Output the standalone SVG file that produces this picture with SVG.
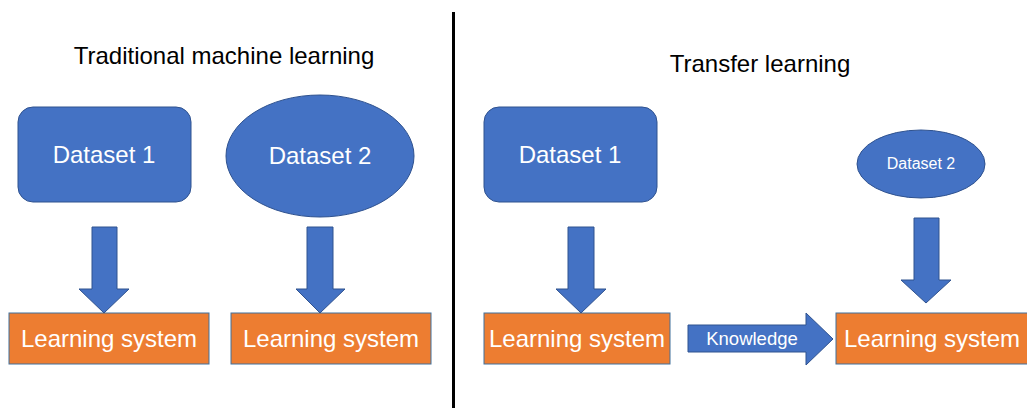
<svg xmlns="http://www.w3.org/2000/svg" width="1027" height="408" viewBox="0 0 1027 408">
  <style>
    .data { fill: #4472C4; stroke: #2F528F; stroke-width: 1; }
    .sys { fill: #ED7D31; stroke: #41719C; stroke-width: 1; }
    .flow { fill: #4472C4; stroke: #2F528F; stroke-width: 1; }
    .title { font-family: "Liberation Sans", Arial, sans-serif; font-size: 24px; fill: #000; text-anchor: middle; }
    .lbl { font-family: "Liberation Sans", Arial, sans-serif; font-size: 24px; fill: #fff; text-anchor: middle; }
  </style>
  <rect width="1027" height="408" fill="#fff"/>

  <!-- headings -->
  <text class="title" x="224" y="64">Traditional machine learning</text>
  <text class="title" x="760" y="72">Transfer learning</text>

  <!-- divider -->
  <line x1="453.5" y1="12" x2="453.5" y2="408" stroke="#000" stroke-width="3"/>

  <!-- left panel -->
  <g id="trad-dataset1">
    <rect class="data" x="18" y="107" width="173" height="95" rx="15"/>
    <text class="lbl" x="104" y="163">Dataset 1</text>
  </g>
  <g id="trad-dataset2">
    <ellipse class="data" cx="320" cy="156" rx="94" ry="61"/>
    <text class="lbl" x="320" y="164">Dataset 2</text>
  </g>
  <g id="trad-system1">
    <rect class="sys" x="9" y="313" width="200" height="51"/>
    <text class="lbl" x="109" y="347">Learning system</text>
  </g>
  <g id="trad-system2">
    <rect class="sys" x="231" y="313" width="200" height="51"/>
    <text class="lbl" x="331" y="347">Learning system</text>
  </g>

  <!-- right panel -->
  <g id="tl-dataset1">
    <rect class="data" x="484" y="107" width="173" height="95" rx="15"/>
    <text class="lbl" x="570" y="163">Dataset 1</text>
  </g>
  <g id="tl-dataset2">
    <ellipse class="data" cx="921" cy="164" rx="64" ry="34"/>
    <text class="lbl" x="921" y="169" style="font-size:16px">Dataset 2</text>
  </g>
  <g id="tl-system1">
    <rect class="sys" x="484" y="313" width="186" height="51"/>
    <text class="lbl" x="577" y="347">Learning system</text>
  </g>
  <g id="tl-system2">
    <rect class="sys" x="836" y="313" width="200" height="51"/>
    <text class="lbl" x="932" y="347">Learning system</text>
  </g>

  <!-- block arrows -->
  <g id="connectors">
    <polygon class="flow" points="92,227 117,227 117,289 129,289 104,313 79,289 92,289"/>
    <polygon class="flow" points="307,227 333,227 333,289 345,289 320,313 296,289 307,289"/>
    <polygon class="flow" points="568,227 594,227 594,289 606,289 581,313 556,289 568,289"/>
    <polygon class="flow" points="914,218 939,218 939,280 951,280 926,303 901,280 914,280"/>
    <g id="knowledge">
      <polygon class="flow" points="688,325 806,325 806,313 833,339 806,365 806,352 688,352"/>
      <text class="lbl" x="752" y="345" style="font-size:18.5px">Knowledge</text>
    </g>
  </g>
</svg>
